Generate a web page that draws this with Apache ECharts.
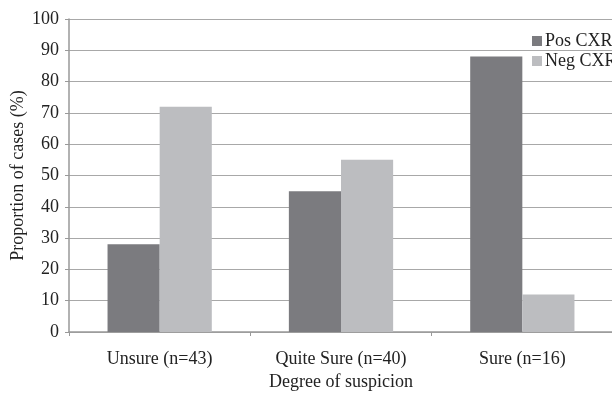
<!DOCTYPE html>
<html><head><meta charset="utf-8">
<script src="https://cdn.jsdelivr.net/npm/echarts@6/dist/echarts.min.js"></script>
<style>html,body{margin:0;padding:0;background:#fff}#c{width:612px;height:401px}</style>
</head><body><div id="c"></div>
<script>
const categories = ['Unsure (n=43)', 'Quite Sure (n=40)', 'Sure (n=16)'];
const posCXR = [28, 45, 88];
const negCXR = [72, 55, 12];
const seriesNames = ['Pos CXR', 'Neg CXR'];
const font = 'Liberation Serif';
const chart = echarts.init(document.getElementById('c'), null, {renderer: 'canvas'});
chart.setOption({
  animation: false,
  backgroundColor: '#fff',
  textStyle: {fontFamily: font, color: '#222'},
  grid: {left: 69, right: -1, top: 19, bottom: 69, containLabel: false, outerBoundsMode: 'none'},
  legend: {
    orient: 'vertical', left: 532, top: 32, padding: 0, itemWidth: 10, itemHeight: 10, itemGap: 2,
    icon: 'rect', textStyle: {fontFamily: font, fontSize: 18, color: '#222', padding: [0, 0, 0, -2]},
    data: seriesNames
  },
  xAxis: {
    type: 'category', data: categories,
    name: 'Degree of suspicion', nameLocation: 'middle', nameGap: 41, nameMoveOverlap: false,
    nameTextStyle: {fontFamily: font, fontSize: 18, color: '#222'},
    axisLine: {lineStyle: {color: '#999', width: 1.5}},
    axisTick: {show: true, length: 4, lineStyle: {color: '#999'}},
    axisLabel: {margin: 18, fontFamily: font, fontSize: 18, color: '#222'}
  },
  yAxis: {
    type: 'value', min: 0, max: 100, interval: 10,
    name: 'Proportion of cases (%)', nameLocation: 'middle', nameGap: 42, nameMoveOverlap: false,
    nameTextStyle: {fontFamily: font, fontSize: 18, color: '#222'},
    axisLine: {show: true, lineStyle: {color: '#999', width: 1.5}},
    axisTick: {show: true, length: 4, lineStyle: {color: '#999'}},
    axisLabel: {margin: 10, fontFamily: font, fontSize: 18, color: '#222'},
    splitLine: {lineStyle: {color: '#a8a8a8', width: 1.2}}
  },
  series: [
    {name: seriesNames[0], type: 'bar', data: posCXR, barGap: '0%', barCategoryGap: '42.5%', itemStyle: {color: '#7b7b7f'}},
    {name: seriesNames[1], type: 'bar', data: negCXR, barGap: '0%', barCategoryGap: '42.5%', itemStyle: {color: '#bcbdc0'}}
  ]
});
</script></body></html>
